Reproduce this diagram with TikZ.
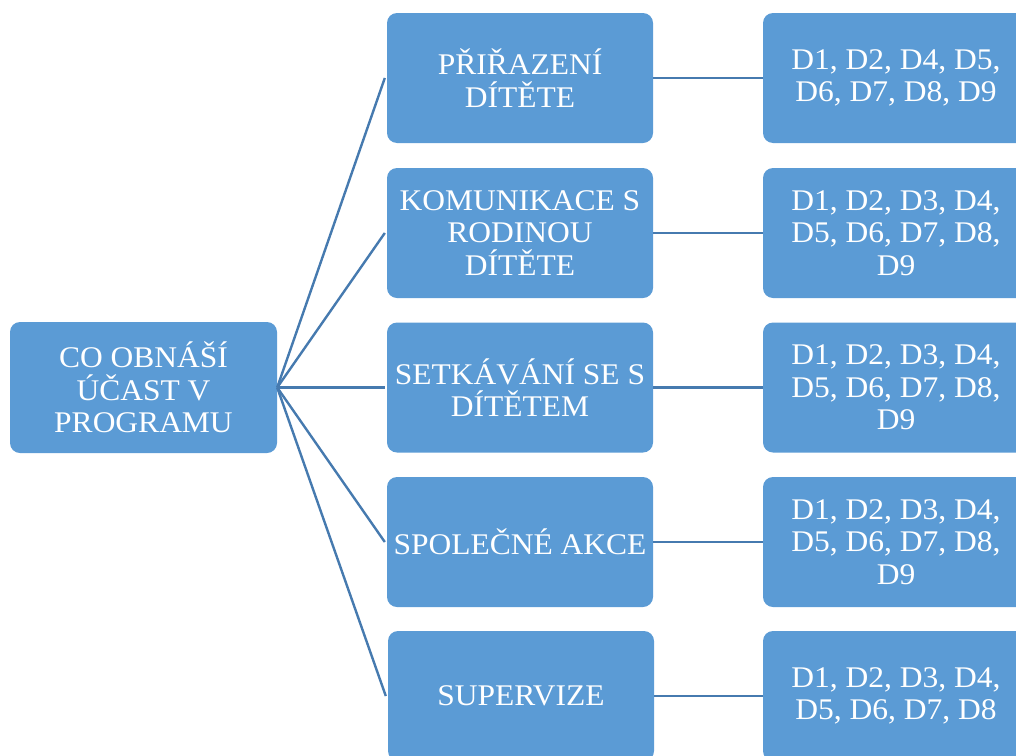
\documentclass[tikz,border=0pt]{standalone}
\usepackage{fontspec}
\setmainfont[FakeStretch=1.05]{Liberation Serif}
\definecolor{boxfill}{RGB}{91,155,213}
\definecolor{linkcol}{RGB}{70,122,175}
\begin{document}
\begin{tikzpicture}[x=1pt,y=-1pt,
  box/.style={draw=none,fill=boxfill,rounded corners=10pt,minimum width=266pt,minimum height=130pt,
    text=white,align=center,inner sep=0pt,font=\fontsize{30}{32.5}\selectfont},
  link/.style={draw=linkcol,line width=2.4pt}]
\useasboundingbox (0,0) rectangle (1016,755);
\clip (0,0) rectangle (1016,755);
\node[box,minimum width=267pt,minimum height=131pt] (root) at (143.5,387.5) {CO OBNÁŠÍ\\ÚČAST V\\PROGRAMU};
\node[box] (m1) at (520,78) {PŘIŘAZENÍ\\DÍTĚTE};
\node[box] (m2) at (520,233) {KOMUNIKACE S\\RODINOU\\DÍTĚTE};
\node[box] (m3) at (520,387.5) {SETKÁVÁNÍ SE S\\DÍTĚTEM};
\node[box] (m4) at (520,542) {SPOLEČNÉ AKCE};
\node[box] (m5) at (521,696) {SUPERVIZE};
\node[box] (r1) at (896,78) {D1, D2, D4, D5,\\D6, D7, D8, D9};
\node[box] (r2) at (896,233) {D1, D2, D3, D4,\\D5, D6, D7, D8,\\D9};
\node[box] (r3) at (896,387.5) {D1, D2, D3, D4,\\D5, D6, D7, D8,\\D9};
\node[box] (r4) at (896,542) {D1, D2, D3, D4,\\D5, D6, D7, D8,\\D9};
\node[box] (r5) at (896,696) {D1, D2, D3, D4,\\D5, D6, D7, D8};
\foreach \i in {1,...,5}{
  \draw[link] (root.east) -- ([xshift=-2pt]m\i.west);
  \draw[link] (m\i.east) -- (r\i.west);
}
\end{tikzpicture}
\end{document}
